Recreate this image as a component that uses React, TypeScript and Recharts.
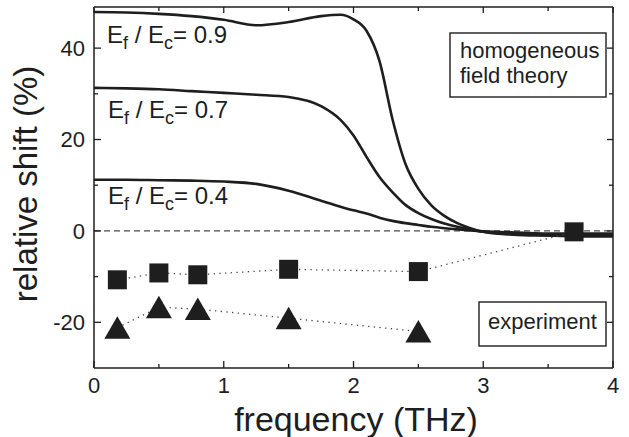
import { LineChart, Line, XAxis, YAxis, ReferenceLine } from "recharts";

// theory curves (homogeneous field theory), relative shift in %
const theoryFreq = [0, 0.25, 0.5, 0.75, 1.0, 1.25, 1.5, 1.75, 1.9, 2.0, 2.1, 2.2, 2.3, 2.4, 2.5, 2.6, 2.7, 2.8, 2.9, 3.0, 3.2, 3.4, 3.6, 3.8, 4.0];
const shift09 = [47.9, 47.8, 47.5, 47.0, 46.2, 45.0, 45.7, 47.0, 47.3, 46.3, 43.8, 37.2, 24.5, 14.7, 9.2, 5.6, 3.3, 1.7, 0.6, -0.2, -0.8, -1.0, -1.1, -1.2, -1.2];
const shift07 = [31.3, 31.2, 31.0, 30.6, 30.2, 29.8, 29.3, 27.3, 24.3, 20.9, 16.2, 11.8, 8.5, 5.7, 3.9, 2.6, 1.6, 0.9, 0.3, -0.2, -0.6, -0.8, -0.9, -0.9, -0.9];
const shift04 = [11.2, 11.2, 11.1, 11.0, 10.8, 10.3, 8.8, 6.6, 5.3, 4.5, 3.8, 2.9, 2.2, 1.7, 1.3, 0.9, 0.6, 0.35, 0.1, -0.1, -0.3, -0.5, -0.6, -0.6, -0.6];

// experiment
const squareFreq = [0.18, 0.5, 0.8, 1.5, 2.5, 3.7];
const squareShift = [-10.7, -9.2, -9.6, -8.4, -8.9, -0.2];
const triFreq = [0.18, 0.5, 0.8, 1.5, 2.5];
const triShift = [-21.2, -16.7, -17.1, -19.1, -22.0];

const xTicks = [0, 0.5, 1, 1.5, 2, 2.5, 3, 3.5, 4];
const yTicks = [-20, -10, 0, 10, 20, 30, 40];

const FONT = "'Liberation Sans', Arial, sans-serif";
const INK = "#1e1e1e";

const toRows = (xs: number[], ys: number[]) => xs.map((f, i) => ({ f, v: ys[i] }));

// axes have size 1 (recharts skips axes of size 0), so ticks start from the axis line
const BottomTick = ({ x, y, payload }: any) => {
    const major = Number.isInteger(payload.value);
    return (
        <g>
            <line x1={x} x2={x} y1={y} y2={y - (major ? 7 : 4)} stroke={INK} strokeWidth={1.3} />
            {major && (
                <text x={x} y={y + 25} textAnchor="middle" fontSize={22} fontFamily={FONT} fill={INK}>
                    {payload.value}
                </text>
            )}
        </g>
    );
};

const TopTick = ({ x, y, payload }: any) => {
    const major = Number.isInteger(payload.value);
    return <line x1={x} x2={x} y1={y} y2={y + (major ? 6 : 4)} stroke={INK} strokeWidth={1.3} />;
};

const LeftTick = ({ x, y, payload }: any) => {
    const major = payload.value % 20 === 0;
    return (
        <g>
            <line x1={x} x2={x + (major ? 7 : 4)} y1={y} y2={y} stroke={INK} strokeWidth={1.3} />
            {major && (
                <text x={x - 9} y={y} dy="0.36em" textAnchor="end" fontSize={22} fontFamily={FONT} fill={INK}>
                    {payload.value}
                </text>
            )}
        </g>
    );
};

const RightTick = ({ x, y, payload }: any) => {
    const major = payload.value % 20 === 0;
    return <line x1={x} x2={x - (major ? 6 : 4)} y1={y} y2={y} stroke={INK} strokeWidth={1.3} />;
};

const SquareDot = ({ cx, cy }: any) => (
    <rect x={cx - 9.5} y={cy - 9.5} width={19} height={19} fill={INK} />
);

const TriangleDot = ({ cx, cy }: any) => (
    <path d={`M${cx},${cy - 11.5} L${cx + 13},${cy + 11} L${cx - 13},${cy + 11} Z`} fill={INK} />
);

const RatioLabel = ({ x, y, value }: { x: number; y: number; value: string }) => (
    <text x={x} y={y} fontSize={24} fontFamily={FONT} fill={INK}>
        E<tspan fontSize={18} dy={6}>f</tspan>
        <tspan dy={-6}> / E</tspan>
        <tspan fontSize={18} dy={6}>c</tspan>
        <tspan dy={-6}>= {value}</tspan>
    </text>
);

export default function App() {
    const axisLine = { stroke: INK, strokeWidth: 1.5 };
    return (
        <div style={{ position: "absolute", left: 0, top: 0, width: 629, height: 437, background: "#fff" }}>
            <LineChart width={629} height={437} margin={{ top: 6, right: 15, bottom: 68, left: 93 }}>
                <XAxis xAxisId="b" type="number" dataKey="f" domain={[0, 4]} ticks={xTicks} height={1}
                    tickSize={0} tickMargin={0} tickLine={false} axisLine={axisLine}
                    tick={(p: any) => <BottomTick {...p} />} interval={0} allowDataOverflow />
                <XAxis xAxisId="t" orientation="top" type="number" dataKey="f" domain={[0, 4]} ticks={xTicks} height={1}
                    tickSize={0} tickMargin={0} tickLine={false} axisLine={axisLine}
                    tick={(p: any) => <TopTick {...p} />} interval={0} allowDataOverflow />
                <YAxis yAxisId="l" type="number" domain={[-30, 49]} ticks={yTicks} width={1}
                    tickSize={0} tickMargin={0} tickLine={false} axisLine={axisLine}
                    tick={(p: any) => <LeftTick {...p} />} interval={0} allowDataOverflow />
                <YAxis yAxisId="r" orientation="right" type="number" domain={[-30, 49]} ticks={yTicks} width={1}
                    tickSize={0} tickMargin={0} tickLine={false} axisLine={axisLine}
                    tick={(p: any) => <RightTick {...p} />} interval={0} allowDataOverflow />

                <ReferenceLine xAxisId="b" yAxisId="l" y={0} stroke={INK} strokeWidth={1} strokeDasharray="6 4" />

                <Line xAxisId="b" yAxisId="l" data={toRows(theoryFreq, shift09)} dataKey="v" type="monotone"
                    stroke={INK} strokeWidth={2.6} dot={false} activeDot={false} isAnimationActive={false} />
                <Line xAxisId="b" yAxisId="l" data={toRows(theoryFreq, shift07)} dataKey="v" type="monotone"
                    stroke={INK} strokeWidth={2.6} dot={false} activeDot={false} isAnimationActive={false} />
                <Line xAxisId="b" yAxisId="l" data={toRows(theoryFreq, shift04)} dataKey="v" type="monotone"
                    stroke={INK} strokeWidth={2.6} dot={false} activeDot={false} isAnimationActive={false} />

                <Line xAxisId="b" yAxisId="l" data={toRows(squareFreq, squareShift)} dataKey="v" type="linear"
                    stroke="#444" strokeWidth={1.3} strokeDasharray="1.3 4.4"
                    dot={(p: any) => <SquareDot {...p} key={`sq-${p.index}`} />} activeDot={false} isAnimationActive={false} />
                <Line xAxisId="b" yAxisId="l" data={toRows(triFreq, triShift)} dataKey="v" type="linear"
                    stroke="#444" strokeWidth={1.3} strokeDasharray="1.3 4.4"
                    dot={(p: any) => <TriangleDot {...p} key={`tri-${p.index}`} />} activeDot={false} isAnimationActive={false} />
            </LineChart>

            <svg width={629} height={437} style={{ position: "absolute", left: 0, top: 0, pointerEvents: "none" }}>
                <RatioLabel x={107} y={43} value="0.9" />
                <RatioLabel x={108} y={118} value="0.7" />
                <RatioLabel x={108} y={204} value="0.4" />

                <rect x={450} y={33} width={156} height={64} fill="#fff" stroke={INK} strokeWidth={1.4} />
                <text x={460} y={58} fontSize={22} fontFamily={FONT} fill={INK}>homogeneous</text>
                <text x={460} y={83} fontSize={22} fontFamily={FONT} fill={INK}>field theory</text>

                <rect x={479} y={302} width={127} height={44} fill="#fff" stroke={INK} strokeWidth={1.4} />
                <text x={488} y={329} fontSize={22} fontFamily={FONT} fill={INK}>experiment</text>

                <text x={356} y={431} textAnchor="middle" fontSize={34} fontFamily={FONT} fill={INK}>frequency (THz)</text>
                <text x={37} y={184} transform="rotate(-90 37 184)" textAnchor="middle" fontSize={33} fontFamily={FONT} fill={INK}>
                    relative shift (%)
                </text>
            </svg>
        </div>
    );
}
